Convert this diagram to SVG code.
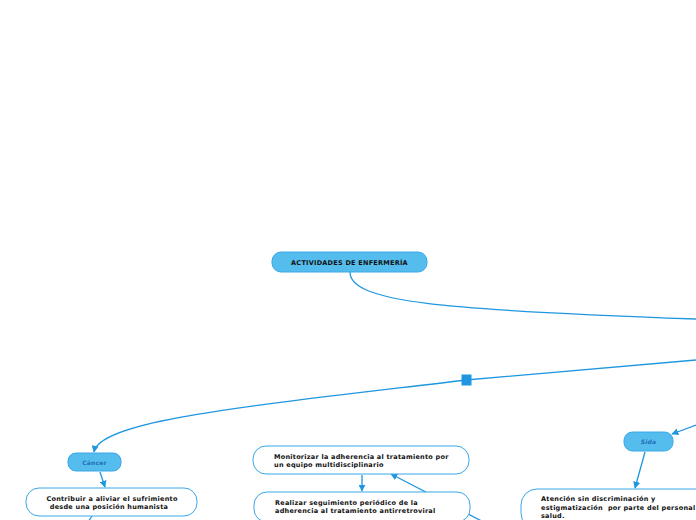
<svg xmlns="http://www.w3.org/2000/svg" width="696" height="520" viewBox="0 0 696 520">
<style>
.c{fill:none;stroke:#1f97e0;stroke-width:1.3}
.t{fill:#55bdee;stroke:#3aa6e6;stroke-width:1}
.w{fill:#ffffff;stroke:#3aa6e6;stroke-width:1}
.tx{font-family:"DejaVu Sans",Verdana,sans-serif;font-weight:bold;font-size:6.5px;fill:#111;letter-spacing:0.25px;white-space:pre}
.tb{font-family:"DejaVu Sans",Verdana,sans-serif;font-weight:bold;font-size:6px;fill:#1f6fb5;letter-spacing:0.2px}
</style>
<defs>
<marker id="a" viewBox="0 0 10 10" refX="9" refY="5" markerWidth="7" markerHeight="7" markerUnits="userSpaceOnUse" orient="auto">
<path d="M0,0 L10,5 L0,10 Z" fill="#1f97e0"/>
</marker>
</defs>
<rect width="696" height="520" fill="#ffffff"/>
<g id="connectors">
<path class="c" d="M350,272 C350,302 440,310 696,319"/>
<path class="c" d="M696,360 L466,380 C250,406 100,420 94,452" marker-end="url(#a)"/>
<rect x="461.5" y="374.5" width="10" height="11" fill="#1f97e0"/>
<path class="c" d="M696,425 L672,434" marker-end="url(#a)"/>
<path class="c" d="M100,472 L105,487" marker-end="url(#a)"/>
<path class="c" d="M92,516 L88,522"/>
<path class="c" d="M362,475 L362,491" marker-end="url(#a)"/>
<path class="c" d="M497,529 L391,474" marker-end="url(#a)"/>
<path class="c" d="M645,452 L635,488" marker-end="url(#a)"/>
</g>
<g id="n-actividades">
<rect class="t" x="272" y="252" width="155" height="20" rx="9"/>
<text class="tx" x="349.5" y="264.5" text-anchor="middle" letter-spacing="0.4">ACTIVIDADES DE ENFERMERÍA</text>
</g>
<g id="n-cancer">
<rect class="t" x="68" y="453" width="53" height="18" rx="8"/>
<text class="tb" x="94.5" y="464.5" text-anchor="middle" font-size="5.5">Cáncer</text>
</g>
<g id="n-sida">
<rect class="t" x="624" y="432" width="49" height="19" rx="8.5"/>
<text class="tb" x="648.5" y="444" text-anchor="middle" font-style="italic" font-size="6.5">Sida</text>
</g>
<g id="n-contribuir">
<rect class="w" x="26" y="488" width="171" height="28" rx="13"/>
<text class="tx" x="112" y="500.5" text-anchor="middle">Contribuir a aliviar el sufrimiento</text>
<text class="tx" x="109" y="509" text-anchor="middle">desde una posición humanista</text>
</g>
<g id="n-realizar">
<rect class="w" x="254" y="492" width="216" height="30" rx="13"/>
<text class="tx" x="275" y="504.5">Realizar seguimiento periódico de la</text>
<text class="tx" x="275" y="513">adherencia al tratamiento antirretroviral</text>
</g>
<g id="n-monitorizar">
<rect class="w" x="253" y="446" width="216" height="28" rx="13"/>
<text class="tx" x="274" y="458.5">Monitorizar la adherencia al tratamiento por</text>
<text class="tx" x="274" y="467">un equipo multidisciplinario</text>
</g>
<g id="n-atencion">
<rect class="w" x="521" y="489" width="200" height="40" rx="16"/>
<text class="tx" x="541" y="501">Atención sin discriminación y</text>
<text class="tx" x="541" y="509.5">estigmatización  por parte del personal</text>
<text class="tx" x="541" y="518">salud.</text>
</g>
</svg>
